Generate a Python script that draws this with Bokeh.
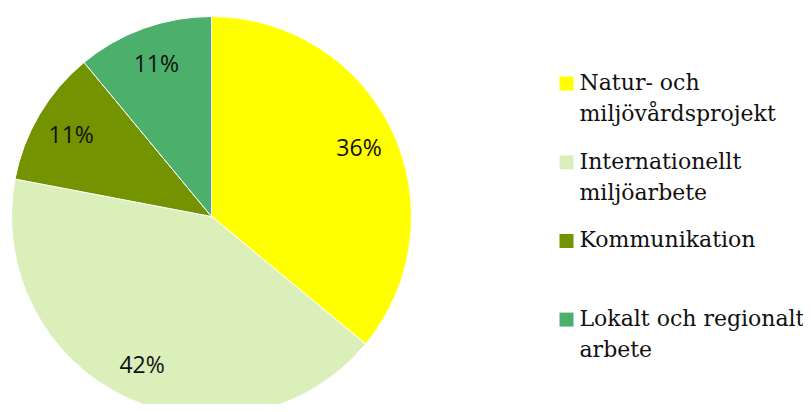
import math
from bokeh.plotting import figure
from bokeh.models import Range1d
from bokeh.core.properties import value
from bokeh.embed import file_html
from bokeh.resources import INLINE

categories = ["Natur- och\nmiljövårdsprojekt", "Internationellt\nmiljöarbete",
              "Kommunikation", "Lokalt och regionalt\narbete"]
shares = [36, 42, 11, 11]
labels = ["36%", "42%", "11%", "11%"]
colors = ["#FFFF00", "#DAEFB9", "#739400", "#4CAF6B"]

W, H = 803, 404
p = figure(width=W, height=H, output_backend="svg", toolbar_location=None,
           x_range=Range1d(0, W), y_range=Range1d(0, H), min_border=0)
p.axis.visible = False
p.grid.visible = False
p.outline_line_color = None

cx, cy, R = 211, H - 216, 200
total = sum(shares)
start = math.pi / 2
starts, ends, lx, ly = [], [], [], []
for s in shares:
    sweep = 2 * math.pi * s / total
    end = start - sweep
    starts.append(end)
    ends.append(start)
    mid = (start + end) / 2
    lx.append(cx + 163 * math.cos(mid))
    ly.append(cy + 163 * math.sin(mid))
    start = end

p.wedge(x=cx, y=cy, radius=R, start_angle=starts, end_angle=ends,
        fill_color=colors, line_color="white", line_width=1)
p.text(x=lx, y=ly, text=labels, text_align="center", text_baseline="middle",
       text_font=value("Open Sans"), text_font_size="23px", text_color="#111111")

# legend
lx0 = 579
tx, ty, tt = [], [], []
sqx, sqy = [], []
for i, cat in enumerate(categories):
    y0 = H - (82 + i * 78.7)
    sqx.append(566)
    sqy.append(y0 - 1)
    for j, line in enumerate(cat.split("\n")):
        tx.append(lx0)
        ty.append(y0 - j * 31)
        tt.append(line)
p.rect(x=sqx, y=sqy, width=14, height=14, fill_color=colors, line_color=None)
p.text(x=tx, y=ty, text=tt, text_align="left", text_baseline="middle",
       text_font=value("DejaVu Serif"), text_font_size="22px", text_color="#111111")

open("out.html", "w").write(file_html(p, INLINE))
